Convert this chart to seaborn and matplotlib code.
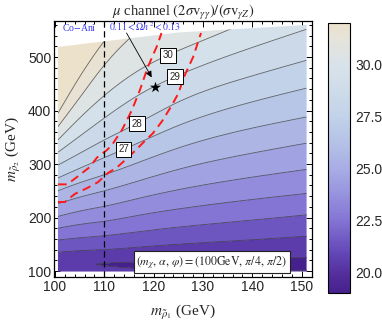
import numpy as np
import pandas as pd
import matplotlib
matplotlib.use("Agg")
import matplotlib.pyplot as plt
import seaborn as sns
from matplotlib.colors import LinearSegmentedColormap, Normalize
from matplotlib.cm import ScalarMappable
from matplotlib.patches import Polygon
from matplotlib.ticker import MultipleLocator

# ---------------- data ----------------
# x positions (m_rho1, GeV) at which the contour heights were read
x_nodes = [100.6, 105.0, 110.0, 117.5, 125.0, 137.5, 151.0]
# y position (m_rho2, GeV) of each contour level at the x nodes
contour_y = {
    21: [135, 138, 140, 145, 150, 157, 165],
    22: [158, 162, 166, 174, 182, 193, 205],
    23: [180, 187, 193, 205, 216, 231, 245],
    24: [202, 212, 221, 237, 252, 272, 290],
    25: [226, 238, 250, 270, 290, 316, 339],
    26: [250, 265, 280, 305, 330, 362, 388],
    27: [274, 292, 312, 342, 372, 410, 442],
    28: [298, 320, 345, 380, 416, 458, 494],
    29: [322, 352, 386, 432, 466, 510, 552],
    30: [345, 386, 428, 478, 512, 560, 620],
    31: [370, 424, 485, 555, 610, 680, 760],
    32: [395, 463, 530, 610, 680, 760, 850],
    33: [425, 500, 580, 660, 740, 840, 940],
}
# lower part: value at the bottom edge, minimum value and its height
bottom_val = [20.55, 20.35, 20.20, 20.10, 20.05, 20.00, 20.05]
min_val = [20.35, 20.12, 19.95, 19.85, 19.80, 19.75, 19.75]
min_y = [111, 112, 113, 113, 114, 114, 115]

# upper edge of the computed region (white above)
edge_x = [100.6, 125.0, 151.0]
edge_y = [519, 546, 560]

contour_levels = [20, 21, 22, 23, 24, 25, 26, 27, 28, 29, 30, 31, 32]
labelled_levels = [27, 28, 29, 30]
label_pos_x = [113.9, 116.6, 124.3, 122.9]

# relic density band 0.11 < Omega h^2 < 0.13 (red dashed)
relic_a_x = [100.6, 102.5, 104.5, 107.0, 108.5, 110.5, 111.5, 113.6, 115.6, 117.2, 118.8, 120.6, 121.6]
relic_a_y = [262, 262, 276, 294, 312, 326, 335, 364, 401, 438, 481, 519, 545]
relic_b_x = [100.6, 102.0, 104.0, 106.5, 108.7, 110.7, 112.6, 114.8, 116.8, 118.2, 119.8, 121.7, 123.7, 125.0, 126.3, 128.0, 129.6]
relic_b_y = [229, 229, 244, 255, 266, 283, 294, 312, 330, 343, 357, 380, 410, 432, 466, 500, 545]

# benchmark point
star_x = [120.2]
star_y = [444]

# colour map stops (value, colour)
cmap_vals = [19.04, 20.0, 21.0, 22.5, 24.0, 25.0, 26.0, 27.5, 29.0, 30.0, 31.0, 32.0]
cmap_cols = ["#46208c", "#55309e", "#6448b8", "#8474d4", "#9a98e0", "#a8acE4",
             "#b2bee6", "#c2d2e8", "#d0dde9", "#d8e2ea", "#e3e3de", "#ece2cc"]
cbar_ticks = [20.0, 22.5, 25.0, 27.5, 30.0]

# ---------------- helpers ----------------
def natural_cubic(xk, yk, xq):
    xk = np.asarray(xk, float)
    yk = np.asarray(yk, float)
    xq = np.atleast_1d(np.asarray(xq, float))
    n = len(xk)
    h = np.diff(xk)
    A = np.zeros((n, n))
    r = np.zeros((n, yk.shape[1]))
    A[0, 0] = A[-1, -1] = 1.0
    for i in range(1, n - 1):
        A[i, i - 1] = h[i - 1]
        A[i, i] = 2 * (h[i - 1] + h[i])
        A[i, i + 1] = h[i]
        r[i] = 6 * ((yk[i + 1] - yk[i]) / h[i] - (yk[i] - yk[i - 1]) / h[i - 1])
    M = np.linalg.solve(A, r)
    idx = np.clip(np.searchsorted(xk, xq) - 1, 0, n - 2)
    x0 = xk[idx][:, None]
    x1 = xk[idx + 1][:, None]
    hh = x1 - x0
    t0 = x1 - xq[:, None]
    t1 = xq[:, None] - x0
    return (M[idx] * t0 ** 3 / (6 * hh) + M[idx + 1] * t1 ** 3 / (6 * hh)
            + (yk[idx] / hh - M[idx] * hh / 6) * t0
            + (yk[idx + 1] / hh - M[idx + 1] * hh / 6) * t1)

# ---------------- build field ----------------
lv_keys = sorted(contour_y.keys())
rows = np.array([bottom_val, min_val, min_y] + [contour_y[k] for k in lv_keys]).T
xf = np.linspace(x_nodes[0], x_nodes[-1], 400)
yf = np.linspace(99, 570, 700)
S = natural_cubic(x_nodes, rows, xf)
Z = np.zeros((len(yf), len(xf)))
for i in range(len(xf)):
    bv, mv, my = S[i, 0], S[i, 1], S[i, 2]
    yk = np.concatenate([[99.0, my], S[i, 3:]])
    vk = np.concatenate([[bv, mv], np.array(lv_keys, float)])
    Z[:, i] = np.interp(yf, yk, vk)

# ---------------- style ----------------
sns.set_theme(style="ticks")
plt.rcParams["font.family"] = ["Liberation Sans", "DejaVu Sans"]
plt.rcParams["mathtext.fontset"] = "stix"

vmin, vmax = cmap_vals[0], cmap_vals[-1]
pos = [(v - vmin) / (vmax - vmin) for v in cmap_vals]
cmap = LinearSegmentedColormap.from_list("mu", list(zip(pos, cmap_cols)))
norm = Normalize(vmin, vmax)

fig = plt.figure(figsize=(3.82, 3.22), dpi=100)
ax = fig.add_axes([54 / 382, 45 / 322, 258 / 382, 256.3 / 322])

cs = ax.contourf(xf, yf, Z, levels=contour_levels, cmap=cmap, norm=norm, extend="both")
cl = ax.contour(xf, yf, Z, levels=contour_levels, colors="#3c3c3c", linewidths=0.6, alpha=0.75)

clip_pts = [(x_nodes[0], 99), (x_nodes[-1], 99)] + list(zip(edge_x[::-1], edge_y[::-1]))
clip_poly = Polygon(clip_pts, closed=True, transform=ax.transData)
cs.set_clip_path(clip_poly)
cl.set_clip_path(clip_poly)

# contour labels placed on their level lines
for lev, lx in zip(labelled_levels, label_pos_x):
    ly = natural_cubic(x_nodes, np.array(contour_y[lev], float)[:, None], [lx])[0, 0]
    ax.text(lx, ly, f"{lev}", fontsize=7, ha="center", va="center", zorder=6,
            bbox=dict(boxstyle="square,pad=0.25", fc="white", ec="black", lw=0.7))

# relic band curves
relic = pd.DataFrame({"x": relic_a_x + relic_b_x,
                      "y": relic_a_y + relic_b_y,
                      "curve": ["a"] * len(relic_a_x) + ["b"] * len(relic_b_x)})
for name, grp in relic.groupby("curve"):
    sns.lineplot(data=grp, x="x", y="y", sort=False, ax=ax, color="#ff1a1a",
                 lw=1.4, linestyle=(0, (4.5, 2.8)), estimator=None, zorder=4)

ax.axvline(110, color="black", lw=0.9, ls=(0, (5, 3)), zorder=5)

sns.scatterplot(x=star_x, y=star_y, marker="*", s=70, color="black", ax=ax, zorder=6,
                linewidth=0)

ax.annotate("", xy=(119.6, 462), xytext=(114.5, 545),
            arrowprops=dict(arrowstyle="-|>", color="black", lw=0.6, mutation_scale=9,
                            shrinkA=0, shrinkB=0), zorder=7)

ax.text(0.031, 0.975, "Co$-$Ani", transform=ax.transAxes, color="#3a3aee",
        fontsize=7, family="Liberation Serif", ha="left", va="center")
ax.text(0.213, 0.975, r"$0.11<\Omega h^2<0.13$", transform=ax.transAxes,
        color="#3a3aee", fontsize=7, ha="left", va="center")

ax.text(0.612, 0.0585, r"$(m_\chi,\,\alpha,\,\varphi)=(100\mathrm{GeV},\,\pi/4,\,\pi/2)$",
        transform=ax.transAxes, fontsize=8.6, ha="center", va="center", zorder=8,
        bbox=dict(boxstyle="square,pad=0.25", fc="white", ec="#222222", lw=0.8))

ax.set_xlim(99.8, 152.1)
ax.set_ylim(88.8, 568)
ax.set_xticks([100, 110, 120, 130, 140, 150])
ax.set_yticks([100, 200, 300, 400, 500])
ax.xaxis.set_minor_locator(MultipleLocator(2))
ax.yaxis.set_minor_locator(MultipleLocator(20))
ax.tick_params(which="both", direction="in", top=True, right=True, labelsize=10,
               color="black", width=0.7, pad=2)
ax.tick_params(which="major", length=4)
ax.tick_params(which="minor", length=2)
for sp in ax.spines.values():
    sp.set_color("black")
    sp.set_linewidth(0.9)

ax.set_xlabel(r"$m_{\tilde{\rho}_1}$ (GeV)", family="Liberation Serif", fontsize=11)
ax.set_ylabel(r"$m_{\tilde{\rho}_2}$ (GeV)", family="Liberation Serif", fontsize=11)
ax.xaxis.set_label_coords(0.5, -0.10)
ax.yaxis.set_label_coords(-0.12, 0.5)

fig.text(183 / 382, 0.962,
         r"$\mu$ channel $(2\sigma\mathrm{v}_{\gamma\gamma})/(\sigma\mathrm{v}_{\gamma Z})$",
         family="Liberation Serif", fontsize=10.5, ha="center", va="center")

cax = fig.add_axes([328 / 382, 29 / 322, 22 / 382, 270 / 322])
cb = fig.colorbar(ScalarMappable(norm=norm, cmap=cmap), cax=cax, ticks=cbar_ticks)
cb.ax.set_yticklabels([f"{t:.1f}" for t in cbar_ticks])
cb.ax.tick_params(length=0, labelsize=10, pad=4)
cb.outline.set_edgecolor("black")
cb.outline.set_linewidth(0.8)

fig.savefig("out.png", dpi=100)
